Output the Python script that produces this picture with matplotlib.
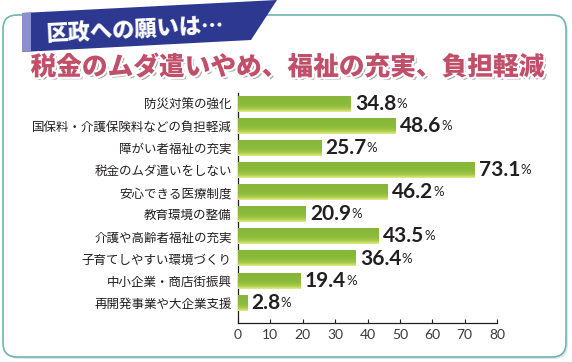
import matplotlib
matplotlib.use('Agg')
import matplotlib.pyplot as plt
import matplotlib.patheffects as pe
import numpy as np
from matplotlib.colors import LinearSegmentedColormap
from matplotlib.patches import FancyBboxPatch, Polygon

plt.rcParams['font.family'] = ['Noto Sans CJK JP', 'DejaVu Sans']

# --- data ---
categories = ['防災対策の強化', '国保料・介護保険料などの負担軽減', '障がい者福祉の充実',
              '税金のムダ遣いをしない', '安心できる医療制度', '教育環境の整備',
              '介護や高齢者福祉の充実', '子育てしやすい環境づくり',
              '中小企業・商店街振興', '再開発事業や大企業支援']
values = [34.8, 48.6, 25.7, 73.1, 46.2, 20.9, 43.5, 36.4, 19.4, 2.8]
xticks = [0, 10, 20, 30, 40, 50, 60, 70, 80]

title = '区政への願いは…'
subtitle = '税金のムダ遣いやめ、福祉の充実、負担軽減'

W, H = 572, 362
fig = plt.figure(figsize=(W / 100, H / 100), dpi=100)

# --- background decoration (pixel coordinates) ---
bg = fig.add_axes([0, 0, 1, 1])
bg.set_xlim(0, W)
bg.set_ylim(H, 0)
bg.axis('off')

bg.add_patch(FancyBboxPatch((5, 17), 563, 342, boxstyle='round,pad=0,rounding_size=14',
                            facecolor='#e6e6e6', edgecolor='none', zorder=1))
bg.add_patch(FancyBboxPatch((3, 15), 563, 342, boxstyle='round,pad=0,rounding_size=14',
                            facecolor='white', edgecolor='#6fb4b4', linewidth=1.2, zorder=2))

bg.add_patch(Polygon([(22, 13), (277, 0), (251, 40), (22, 52)], closed=True,
                     facecolor='#2d3990', edgecolor='none', zorder=3))
bg.add_patch(Polygon([(22, 13), (31, 12.5), (31, 51.5), (22, 52)], closed=True,
                     facecolor='#8d90d0', edgecolor='none', zorder=4))
bg.text(135, 30, title, color='white', fontsize=16, fontweight='heavy',
        ha='center', va='center', rotation=2.8, zorder=5)
bg.text(288, 67, subtitle, color='#c24f69', fontsize=18.5, fontweight='heavy',
        ha='center', va='center', zorder=5,
        path_effects=[pe.SimplePatchShadow(offset=(1.8, -1.8), shadow_rgbFace='#666666', alpha=0.55),
                      pe.Stroke(linewidth=3, foreground='white'), pe.Normal()])

# --- bar chart ---
ax = fig.add_axes([238 / W, (H - 322.5) / H, (497 - 238) / W, (322.5 - 93) / H])
ax.set_facecolor('none')

y = np.arange(len(categories))
bars = ax.barh(y, values, height=0.72, color='#8cbb3c', edgecolor='none', zorder=2)

cmap = LinearSegmentedColormap.from_list(
    'bar', [(0, '#86b63a'), (0.55, '#8cbb3c'), (0.8, '#a9cb47'), (1, '#e2ec86')])
grad = np.linspace(0, 1, 64).reshape(-1, 1)
for b in bars:
    x0, y0, w, h = b.get_x(), b.get_y(), b.get_width(), b.get_height()
    ax.imshow(grad, cmap=cmap, aspect='auto', extent=(x0, x0 + w, y0 + h, y0),
              origin='upper', zorder=3)

for b, v in zip(bars, values):
    t = ax.annotate(f'{v:.1f}', xy=(v, b.get_y() + b.get_height() / 2),
                    xytext=(3, 0), textcoords='offset points', ha='left', va='center',
                    fontsize=15, fontweight='bold', color='#231f20',
                    family=['Lato', 'DejaVu Sans'], zorder=4)
    ax.annotate('%', xy=(1, 0.2), xycoords=t, xytext=(0, 0), textcoords='offset points',
                ha='left', va='bottom', fontsize=9.5, color='#231f20',
                family=['Lato', 'DejaVu Sans'], zorder=4)

ax.set_xlim(0, 80)
ax.set_ylim(9.9, -0.5)
ax.set_yticks(y)
ax.set_yticklabels(categories, fontsize=9, color='#231f20')
ax.set_xticks(xticks)
ax.set_xticklabels([str(t) for t in xticks], fontsize=10, color='#3a3a3a',
                   family=['Lato', 'DejaVu Sans'])
ax.tick_params(axis='y', length=0, pad=4.5)
ax.tick_params(axis='x', direction='in', length=3, width=0.8, pad=5, color='#231f20')
ax.spines['top'].set_visible(False)
ax.spines['right'].set_visible(False)
for s in ('left', 'bottom'):
    ax.spines[s].set_linewidth(0.9)
    ax.spines[s].set_color('#231f20')

fig.savefig('out.png', dpi=100)
